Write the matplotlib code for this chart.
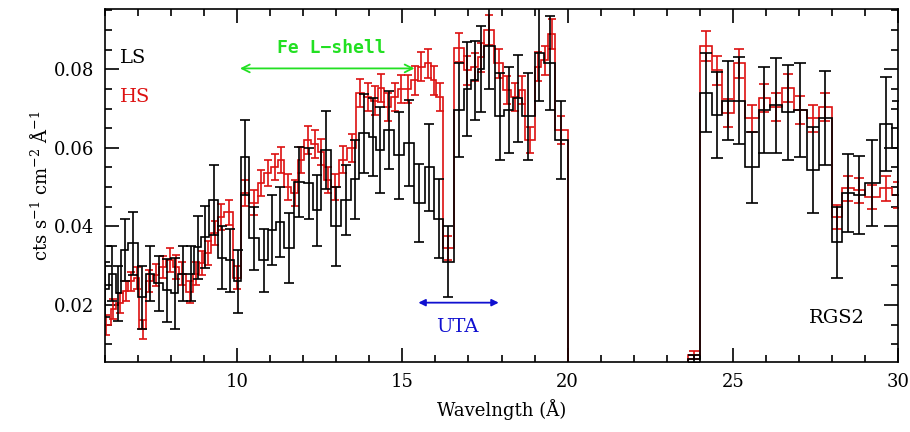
"""RGS2 spectrum, low state vs high state."""
import matplotlib
matplotlib.use("Agg")
import matplotlib.pyplot as plt
import numpy as np
from matplotlib.ticker import MultipleLocator

# ---- LS (black), 6-20 A segment: bin edges, values, errors
ls_edges_a = [5.9, 6.12, 6.33, 6.48, 6.70, 7.0, 7.24, 7.48, 7.76, 8.0, 8.21, 8.52, 8.70,
              8.91, 9.15, 9.42, 9.67, 9.91, 10.12, 10.36, 10.67, 10.94, 11.18, 11.42,
              11.73, 12.03, 12.30, 12.55, 12.85, 13.15, 13.45, 13.70, 14.0, 14.21, 14.45,
              14.76, 15.06, 15.36, 15.67, 15.97, 16.24, 16.55, 16.85, 17.09, 17.30, 17.48,
              17.79, 18.09, 18.36, 18.61, 19.0, 19.30, 19.61, 20.0]
ls_vals_a = [0.024, 0.028, 0.023, 0.034, 0.0357, 0.022, 0.028, 0.0256, 0.0238, 0.023,
             0.028, 0.028, 0.0347, 0.0373, 0.0467, 0.032, 0.0314, 0.026, 0.0576, 0.037,
             0.0314, 0.0391, 0.0411, 0.0345, 0.0513, 0.051, 0.0441, 0.0594, 0.040, 0.0467,
             0.052, 0.0637, 0.0628, 0.0594, 0.0645, 0.0581, 0.0612, 0.046, 0.055, 0.042,
             0.031, 0.0696, 0.075, 0.0772, 0.080, 0.086, 0.068, 0.0696, 0.0726, 0.068,
             0.084, 0.0815, 0.062]
ls_errs_a = [0.007, 0.007, 0.007, 0.008, 0.008, 0.008, 0.007, 0.007, 0.008, 0.009,
             0.007, 0.007, 0.008, 0.008, 0.009, 0.008, 0.008, 0.008, 0.0095, 0.008,
             0.008, 0.009, 0.009, 0.009, 0.009, 0.009, 0.009, 0.010, 0.010, 0.009,
             0.010, 0.010, 0.010, 0.011, 0.010, 0.011, 0.011, 0.010, 0.011, 0.010,
             0.009, 0.012, 0.012, 0.010, 0.011, 0.011, 0.011, 0.011, 0.011, 0.011,
             0.012, 0.012, 0.010]

# ---- LS, 24-30 A segment
ls_edges_b = [23.65, 24.0, 24.36, 24.67, 25.03, 25.36, 25.79, 26.12, 26.48, 26.85,
              27.24, 27.6, 28.0, 28.3, 28.67, 29.0, 29.45, 29.82, 30.2]
ls_vals_b = [0.0062, 0.074, 0.0683, 0.072, 0.072, 0.055, 0.0696, 0.0708, 0.069, 0.0696,
             0.0543, 0.0675, 0.036, 0.0485, 0.048, 0.051, 0.066, 0.060]
ls_errs_b = [0.001, 0.010, 0.011, 0.010, 0.011, 0.009, 0.011, 0.012, 0.012, 0.012,
             0.011, 0.012, 0.009, 0.010, 0.010, 0.011, 0.012, 0.012]

# ---- HS (red), 6-20 A segment
hs_edges_a = [5.9, 6.18, 6.33, 6.55, 6.70, 6.88, 7.03, 7.24, 7.45, 7.64, 7.85, 8.06, 8.24,
              8.45, 8.67, 8.85, 9.0, 9.21, 9.42, 9.61, 9.88, 10.12, 10.36, 10.64, 10.82,
              11.03, 11.24, 11.42, 11.64, 11.85, 12.03, 12.24, 12.45, 12.64, 12.85, 13.09,
              13.33, 13.61, 13.85, 14.06, 14.27, 14.45, 14.67, 14.88, 15.06, 15.27, 15.48,
              15.67, 15.88, 16.03, 16.24, 16.55, 16.85, 17.09, 17.30, 17.48, 17.76, 18.06,
              18.30, 18.52, 18.70, 19.0, 19.21, 19.42, 19.61, 20.0]
hs_vals_a = [0.015, 0.019, 0.0205, 0.0235, 0.026, 0.027, 0.0138, 0.026, 0.0276, 0.0297,
             0.0314, 0.0297, 0.028, 0.0233, 0.028, 0.0307, 0.0332, 0.0383, 0.0424, 0.0436,
             0.027, 0.0485, 0.046, 0.051, 0.0536, 0.055, 0.0569, 0.050, 0.0485, 0.0569,
             0.062, 0.061, 0.0589, 0.0518, 0.050, 0.057, 0.060, 0.074, 0.0729, 0.072,
             0.0752, 0.0704, 0.073, 0.075, 0.075, 0.0772, 0.0806, 0.0815, 0.0772, 0.073,
             0.0345, 0.0855, 0.0797, 0.0806, 0.083, 0.090, 0.0815, 0.0747, 0.073, 0.0747,
             0.062, 0.0806, 0.0823, 0.089, 0.0645]
hs_errs_a = [0.0025, 0.0025, 0.0025, 0.0025, 0.0025, 0.0028, 0.0025, 0.0028, 0.0028, 0.0028,
             0.003, 0.003, 0.003, 0.0028, 0.003, 0.003, 0.003, 0.003, 0.0032, 0.0032,
             0.003, 0.0032, 0.0032, 0.0033, 0.0033, 0.0033, 0.0034, 0.0033, 0.0033, 0.0034,
             0.0035, 0.0035, 0.0034, 0.0033, 0.0033, 0.0034, 0.0035, 0.0036, 0.0036, 0.0036,
             0.0036, 0.0036, 0.0036, 0.0036, 0.0036, 0.0037, 0.0037, 0.0037, 0.0037, 0.0036,
             0.003, 0.0037, 0.0036, 0.0036, 0.0037, 0.0038, 0.0037, 0.0036, 0.0036, 0.0036,
             0.0034, 0.0037, 0.0037, 0.0038, 0.0035]

# ---- HS, 24-30 A segment
hs_edges_b = [23.65, 24.0, 24.36, 24.67, 25.03, 25.36, 25.79, 26.12, 26.48, 26.85,
              27.24, 27.6, 28.0, 28.3, 28.67, 29.0, 29.45, 29.82, 30.2]
hs_vals_b = [0.0073, 0.086, 0.0797, 0.0688, 0.0815, 0.0675, 0.0726, 0.0704, 0.0752, 0.0696,
             0.0675, 0.0704, 0.0424, 0.0497, 0.0492, 0.0475, 0.0497, 0.048]
hs_errs_b = [0.001, 0.0038, 0.0037, 0.0035, 0.0037, 0.0035, 0.0036, 0.0035, 0.0036, 0.0035,
             0.0035, 0.0035, 0.003, 0.0032, 0.0032, 0.0031, 0.0032, 0.0032]

RED = "#dd1111"
GREEN = "#22e022"
BLUE = "#1010d0"
SERIF = "DejaVu Serif"

plt.rcParams["font.family"] = SERIF
plt.rcParams["mathtext.fontset"] = "dejavuserif"

fig = plt.figure(figsize=(9.1, 4.32), dpi=100)
ax = fig.add_axes([0.1154, 0.162, 0.8714, 0.817])


def draw_series(edges, vals, errs, color, capsize, z):
    edges = np.asarray(edges)
    vals = np.asarray(vals)
    centers = 0.5 * (edges[:-1] + edges[1:])
    ax.stairs(vals, edges, baseline=0, fill=False, color=color, lw=1.2, zorder=z)
    ax.errorbar(centers, vals, yerr=errs, fmt="none", ecolor=color, elinewidth=1.2,
                capsize=capsize, capthick=1.2, zorder=z)


draw_series(hs_edges_a, hs_vals_a, hs_errs_a, RED, 3.0, 2)
draw_series(hs_edges_b, hs_vals_b, hs_errs_b, RED, 3.5, 2)
draw_series(ls_edges_a, ls_vals_a, ls_errs_a, "black", 3.5, 3)
draw_series(ls_edges_b, ls_vals_b, ls_errs_b, "black", 4.0, 3)

ax.set_xlim(6, 30)
ax.set_ylim(0.0055, 0.0953)
ax.xaxis.set_major_locator(MultipleLocator(5))
ax.xaxis.set_minor_locator(MultipleLocator(1))
ax.yaxis.set_major_locator(MultipleLocator(0.02))
ax.yaxis.set_minor_locator(MultipleLocator(0.005))
ax.tick_params(which="both", direction="in", top=True, right=True, width=1.2)
ax.tick_params(which="major", length=10, labelsize=13, pad=8)
ax.tick_params(which="minor", length=5)
for s in ax.spines.values():
    s.set_linewidth(1.2)

ax.set_xlabel("Wavelngth (Å)", fontsize=13, labelpad=6)
ax.set_ylabel(r"cts s$^{-1}$ cm$^{-2}$ Å$^{-1}$", fontsize=13, labelpad=2)

# labels and annotations
ax.text(6.45, 0.0828, "LS", color="black", fontsize=14, va="center")
ax.text(6.45, 0.0729, "HS", color=RED, fontsize=14, va="center")
ax.text(12.85, 0.0853, "Fe L\u2212shell", color=GREEN, fontsize=13, fontweight="bold",
        family="DejaVu Sans Mono", ha="center", va="center")
ax.annotate("", xy=(10.0, 0.0802), xytext=(15.45, 0.0802),
            arrowprops=dict(arrowstyle="<->", color=GREEN, lw=1.3,
                            mutation_scale=14))
ax.annotate("", xy=(15.4, 0.0206), xytext=(18.0, 0.0206),
            arrowprops=dict(arrowstyle="<|-|>", color=BLUE, lw=1.3,
                            mutation_scale=10))
ax.text(16.65, 0.0145, "UTA", color=BLUE, fontsize=14, ha="center", va="center")
ax.text(28.15, 0.0167, "RGS2", color="black", fontsize=14, ha="center", va="center")

plt.savefig("out.png", dpi=100)
plt.close()
